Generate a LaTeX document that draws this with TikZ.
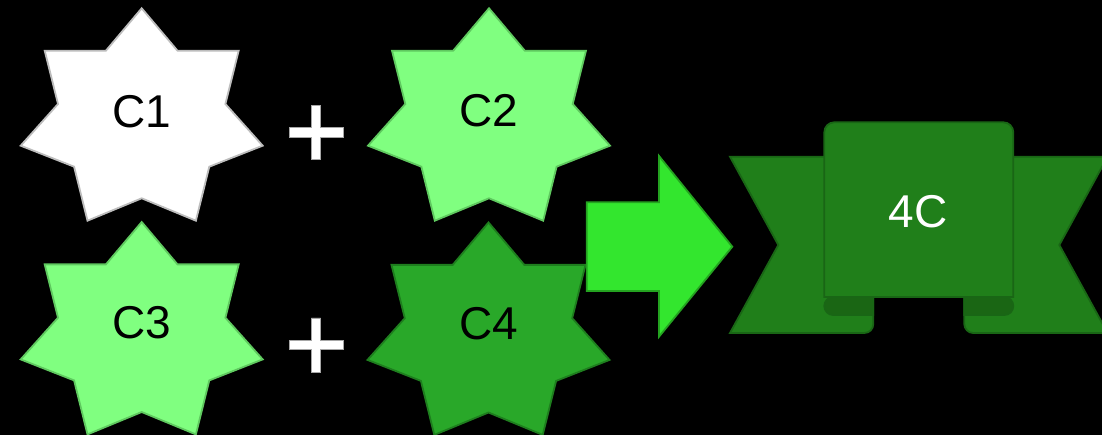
\documentclass[tikz,border=0pt]{standalone}
\usepackage{fontspec}
\setmainfont{Liberation Sans}
\definecolor{cOneFill}{HTML}{FFFFFF}
\definecolor{cOneLine}{HTML}{BDBDBD}
\definecolor{lightFill}{HTML}{80FF80}
\definecolor{lightLine}{HTML}{5FC95F}
\definecolor{darkFill}{HTML}{29A829}
\definecolor{darkLine}{HTML}{1E7E1E}
\definecolor{arrowFill}{HTML}{33E62E}
\definecolor{arrowLine}{HTML}{24A320}
\definecolor{banFill}{HTML}{207F1A}
\definecolor{banLine}{HTML}{196615}
\definecolor{foldFill}{HTML}{1A6614}
\newcommand\sevenstar[3]{%
  \draw[#1, shift={(#2,#3)}] (0,0) -- (35.8,42.4) -- (97,42.4) -- (83.7,95.7) -- (121,137.4) -- (67.6,158.4) -- (54.2,212.4) -- (0,190) -- (-54.2,212.4) -- (-67.6,158.4) -- (-121,137.4) -- (-83.7,95.7) -- (-97,42.4) -- (-35.8,42.4) -- cycle;}
\newcommand\plussign[2]{%
  \draw[plusshape, shift={(#1,#2)}] (-4.7,-27) -- (4.7,-27) -- (4.7,-4.7) -- (26.8,-4.7) -- (26.8,4.7) -- (4.7,4.7) -- (4.7,27) -- (-4.7,27) -- (-4.7,4.7) -- (-27,4.7) -- (-27,-4.7) -- (-4.7,-4.7) -- cycle;}
\tikzset{
  starone/.style={fill=cOneFill, draw=cOneLine, line width=1.8pt, line join=miter},
  starlight/.style={fill=lightFill, draw=lightLine, line width=1.8pt, line join=miter},
  stardark/.style={fill=darkFill, draw=darkLine, line width=1.8pt, line join=miter},
  plusshape/.style={fill=white, draw=gray!70, line width=0.6pt},
  lbl/.style={inner sep=0pt, font=\fontsize{46}{46}\selectfont, text=black},
  banlbl/.style={inner sep=0pt, font=\fontsize{46}{46}\selectfont, text=white},
  arrowshape/.style={fill=arrowFill, draw=arrowLine, line width=1.8pt, line join=miter},
  bannershape/.style={fill=banFill, draw=banLine, line width=1.8pt, line join=miter},
  foldshape/.style={fill=foldFill, draw=banLine, line width=1.8pt},
}
\begin{document}
\begin{tikzpicture}[x=1pt, y=-1pt]
\fill[black] (0,0) rectangle (1102,435);
\useasboundingbox (0,0) rectangle (1102,435);
% stars
\sevenstar{starone}{141.7}{8.3}
\sevenstar{starlight}{489}{8.3}
\sevenstar{starlight}{141.7}{222}
\sevenstar{stardark}{488.5}{222.5}
\node[lbl] (c1) at (141.7,112) {C1};
\node[lbl] (c2) at (488.7,110.5) {C2};
\node[lbl] (c3) at (142,323) {C3};
\node[lbl] (c4) at (488.5,324) {C4};
% plus signs
\plussign{316}{132.3}
\plussign{316}{345}
% block arrow
\draw[arrowshape] (586.7,202.3) -- (659,202.3) -- (659,156) -- (732.3,246.7) -- (659,336.7) -- (659,291) -- (586.7,291) -- cycle;
% banner wings
\draw[bannershape] (730,156.7) -- (873.3,156.7) -- (873.3,324) .. controls (873.3,329) and (869.3,333) .. (864.3,333) -- (730,333) -- (778.3,245) -- cycle;
\draw[bannershape] (1107.6,156.7) -- (964.3,156.7) -- (964.3,324) .. controls (964.3,329) and (968.3,333) .. (973.3,333) -- (1107.6,333) -- (1059.3,245) -- cycle;
% banner panel
\draw[bannershape] (824.3,297) -- (824.3,132.3) .. controls (824.3,126.8) and (828.8,122.3) .. (834.3,122.3) -- (1003.3,122.3) .. controls (1008.8,122.3) and (1013.3,126.8) .. (1013.3,132.3) -- (1013.3,297) -- cycle;
% folds
\draw[foldshape] (873.3,297) -- (873.3,315) -- (833.3,315) .. controls (828.3,315) and (824.3,311) .. (824.3,306) .. controls (824.3,301) and (828.3,297) .. (833.3,297) -- cycle;
\draw[foldshape] (964.3,297) -- (964.3,315) -- (1004.3,315) .. controls (1009.3,315) and (1013.3,311) .. (1013.3,306) .. controls (1013.3,301) and (1009.3,297) .. (1004.3,297) -- cycle;
\node[banlbl] (fourc) at (918.3,212) {4C};
\end{tikzpicture}
\end{document}
